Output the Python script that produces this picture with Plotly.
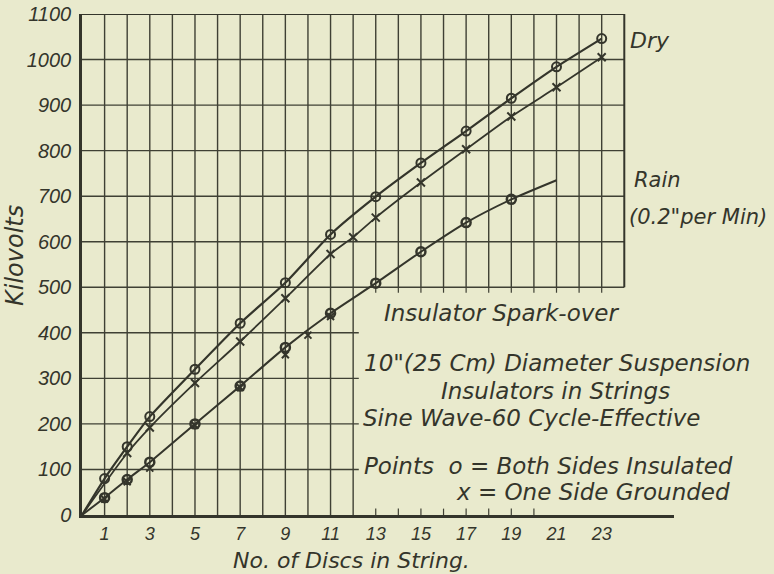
import plotly.graph_objects as go

# ---- data ----
dry_o_x = [1, 2, 3, 5, 7, 9, 11, 13, 15, 17, 19, 21, 23]
dry_o_y = [80, 150, 216, 320, 421, 510, 616, 699, 773, 843, 915, 984, 1046]

dry_x_x = [2, 3, 5, 7, 9, 11, 12, 13, 15, 17, 19, 21, 23]
dry_x_y = [136, 192, 290, 381, 476, 573, 610, 653, 730, 803, 875, 939, 1005]

rain_o_x = [1, 2, 3, 5, 7, 9, 11, 13, 15, 17, 19]
rain_o_y = [38, 78, 116, 200, 283, 368, 443, 509, 578, 642, 693]
rain_end_x = 21
rain_end_y = 735

rain_x_x = [1, 2, 3, 5, 7, 9, 10, 11]
rain_x_y = [35, 73, 103, 197, 280, 352, 395, 436]

x_ticks = [1, 3, 5, 7, 9, 11, 13, 15, 17, 19, 21, 23]
y_ticks = list(range(0, 1101, 100))

BG = "#e9eacd"
INK = "#34352b"
GRID = "#3f4034"
TICKFONT = "Liberation Sans"
FONT = "DejaVu Sans"

W, H = 774, 574
L, R, T, B = 82, 100, 14, 59
XMAX = 26.2


def px(xp):
    return (xp - L) / (W - L - R)


def py(yp):
    return (H - B - yp) / (H - T - B)


fig = go.Figure()

# curves
fig.add_trace(go.Scatter(x=[0] + dry_o_x, y=[0] + dry_o_y, mode="lines",
                         line=dict(color=INK, width=2.2, shape="spline", smoothing=0.6),
                         hoverinfo="skip", showlegend=False))
fig.add_trace(go.Scatter(x=[0] + dry_x_x, y=[0] + dry_x_y, mode="lines",
                         line=dict(color=INK, width=1.8, shape="spline", smoothing=0.6),
                         hoverinfo="skip", showlegend=False))
fig.add_trace(go.Scatter(x=[0] + rain_o_x + [rain_end_x], y=[0] + rain_o_y + [rain_end_y],
                         mode="lines",
                         line=dict(color=INK, width=2.0, shape="spline", smoothing=0.6),
                         hoverinfo="skip", showlegend=False))

# markers
fig.add_trace(go.Scatter(x=dry_o_x, y=dry_o_y, mode="markers",
                         marker=dict(symbol="circle-open", size=9, color=INK, line=dict(width=2)),
                         showlegend=False))
fig.add_trace(go.Scatter(x=dry_x_x, y=dry_x_y, mode="markers",
                         marker=dict(symbol="x-thin-open", size=8, color=INK, line=dict(width=2)),
                         showlegend=False))
fig.add_trace(go.Scatter(x=rain_o_x, y=rain_o_y, mode="markers",
                         marker=dict(symbol="circle-open", size=9, color=INK, line=dict(width=2.5)),
                         showlegend=False))
fig.add_trace(go.Scatter(x=rain_x_x, y=rain_x_y, mode="markers",
                         marker=dict(symbol="x-thin-open", size=7, color=INK, line=dict(width=2)),
                         showlegend=False))

# grid (partial, as in the reference)
shapes = []
for i in range(1, 24):
    y0 = 0 if i <= 12 else 500
    shapes.append(dict(type="line", xref="x", yref="y", x0=i, x1=i, y0=y0, y1=1100,
                       line=dict(color=GRID, width=1.4), layer="between"))
for j in range(100, 1100, 100):
    x1 = 24 if j >= 500 else 12.25
    shapes.append(dict(type="line", xref="x", yref="y", x0=0, x1=x1, y0=j, y1=j,
                       line=dict(color=GRID, width=1.4), layer="between"))
# borders
shapes.append(dict(type="line", xref="x", yref="y", x0=0, x1=24, y0=1100, y1=1100,
                   line=dict(color=INK, width=2), layer="between"))
shapes.append(dict(type="line", xref="x", yref="y", x0=24, x1=24, y0=500, y1=1100,
                   line=dict(color=INK, width=2), layer="between"))
# small ticks in the text region
for i in range(13, 24):
    shapes.append(dict(type="line", xref="x", yref="y", x0=i, x1=i, y0=500, y1=488,
                       line=dict(color=GRID, width=1.2), layer="between"))
for i in range(13, 21):
    shapes.append(dict(type="line", xref="x", yref="y", x0=i, x1=i, y0=0, y1=14,
                       line=dict(color=GRID, width=1.2), layer="between"))

ann = []


def text(s, xp, yp, size=23, xanchor="left", angle=0):
    ann.append(dict(text=s, x=px(xp), y=py(yp), xref="paper", yref="paper",
                    xanchor=xanchor, yanchor="middle", showarrow=False, textangle=angle,
                    font=dict(family=FONT, size=size, color=INK, style="italic")))


text("Dry", 628, 41, size=22)
text("Rain", 632, 180, size=21)
text("(0.2\"per Min)", 627, 217, size=21)
text("Insulator Spark-over", 382, 313)
text("10\"(25 Cm) Diameter Suspension", 362, 363)
text("Insulators in Strings", 439, 391)
text("Sine Wave-60 Cycle-Effective", 361, 418)
text("Points  o = Both Sides Insulated", 362, 466)
text("x = One Side Grounded", 454, 492)
text("No. of Discs in String.", 351, 560, size=22, xanchor="center")
text("Kilovolts", 15, 256, size=24, xanchor="center", angle=-90)

fig.update_layout(
    width=W, height=H,
    margin=dict(l=L, r=R, t=T, b=B, pad=0, autoexpand=False),
    paper_bgcolor=BG, plot_bgcolor=BG,
    shapes=shapes, annotations=ann,
    showlegend=False,
    xaxis=dict(range=[0, XMAX], tickvals=x_ticks, ticktext=[str(v) for v in x_ticks],
               showgrid=False, zeroline=False, showline=True, linecolor=INK, linewidth=2.5,
               ticks="", ticklabelstandoff=1, automargin=False,
               tickfont=dict(family=TICKFONT, size=18, color=INK, style="italic"),
               fixedrange=True),
    yaxis=dict(range=[0, 1100], tickvals=y_ticks, ticktext=[str(v) for v in y_ticks],
               showgrid=False, zeroline=False, showline=True, linecolor=INK, linewidth=2.5,
               ticks="", ticklabelstandoff=4, automargin=False,
               tickfont=dict(family=TICKFONT, size=20, color=INK, style="italic"),
               fixedrange=True),
)

fig.write_html("out.html", config={"displayModeBar": False},
               post_script="document.body.style.margin='0';document.body.style.overflow='hidden';")
